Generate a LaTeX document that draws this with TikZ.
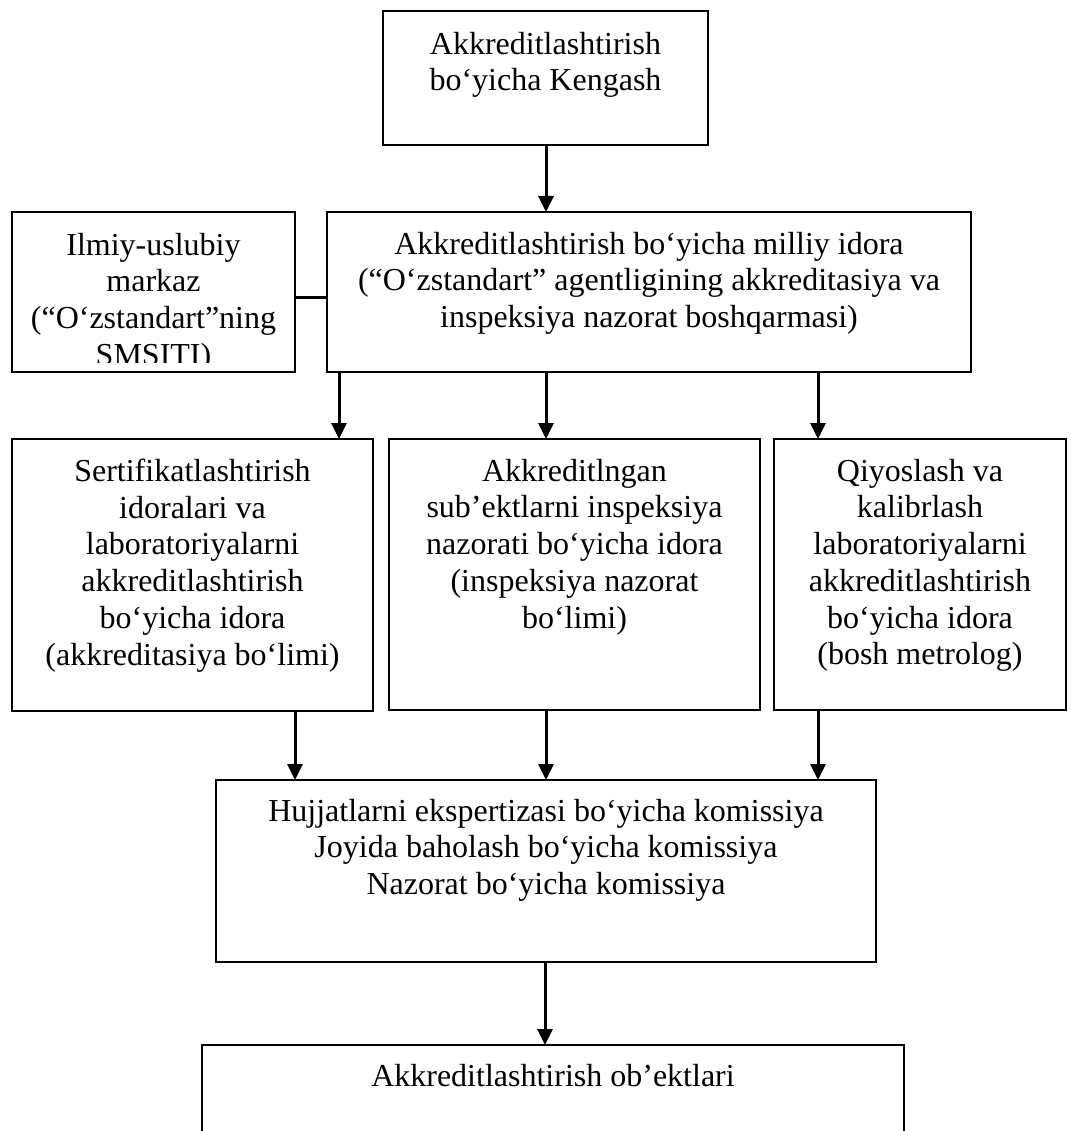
\documentclass[tikz,border=0pt]{standalone}
\usepackage{fontspec}
\setmainfont{Liberation Serif}
\usetikzlibrary{arrows.meta,calc}
\tikzset{
  box/.style={draw, line width=1.5pt, inner sep=0pt, outer sep=0pt, anchor=north west},
  openbox/.style={inner sep=0pt, outer sep=0pt, anchor=north west},
  txt/.style={inner sep=0pt, outer sep=0pt, anchor=north, align=center,
    font=\fontsize{32pt}{36.7pt}\selectfont},
  arr/.style={line width=3pt, -{Triangle[length=16pt,width=15pt]}},
  link/.style={line width=3pt}
}
\begin{document}
\begin{tikzpicture}[x=1pt,y=-1pt]
\fill[white] (0,0) rectangle (1070,1131);
\useasboundingbox (0,0) rectangle (1070,1131);

% boxes
\node[box, minimum width=325pt, minimum height=134pt] (kengash) at (383,11) {};
\node[box, minimum width=283pt, minimum height=160pt] (ilmiy) at (12,212) {};
\node[box, minimum width=644pt, minimum height=160pt] (milliy) at (327,212) {};
\node[box, minimum width=361pt, minimum height=272pt] (sert) at (12,439) {};
\node[box, minimum width=371pt, minimum height=271pt] (insp) at (389,439) {};
\node[box, minimum width=292pt, minimum height=271pt] (qiy) at (774,439) {};
\node[box, minimum width=660pt, minimum height=182pt] (kom) at (216,780) {};
\node[openbox, minimum width=702pt, minimum height=88pt] (obj) at (202,1045) {};
\draw[line width=1.5pt] (obj.south west) -- (obj.north west) -- (obj.north east) -- (obj.south east);

% texts
\node[txt] (kengashT) at (545.5,32) {Akkreditlashtirish\\bo‘yicha Kengash};
\begin{scope}
\clip (12,212) rectangle (295,362);
\node[txt] (ilmiyT) at (153.5,233) {Ilmiy-uslubiy\\markaz\\(“O‘zstandart”ning\\SMSITI)};
\end{scope}
\node[txt] (milliyT) at (649,232) {Akkreditlashtirish bo‘yicha milliy idora\\(“O‘zstandart” agentligining akkreditasiya va\\inspeksiya nazorat boshqarmasi)};
\node[txt] (sertT) at (192.5,459) {Sertifikatlashtirish\\idoralari va\\laboratoriyalarni\\akkreditlashtirish\\bo‘yicha idora\\(akkreditasiya bo‘limi)};
\node[txt] (inspT) at (574.5,459) {Akkreditlngan\\sub’ektlarni inspeksiya\\nazorati bo‘yicha idora\\(inspeksiya nazorat\\bo‘limi)};
\node[txt] (qiyT) at (920,459) {Qiyoslash va\\kalibrlash\\laboratoriyalarni\\akkreditlashtirish\\bo‘yicha idora\\(bosh metrolog)};
\node[txt] (komT) at (546,799) {Hujjatlarni ekspertizasi bo‘yicha komissiya\\Joyida baholash bo‘yicha komissiya\\Nazorat bo‘yicha komissiya};
\node[txt] (objT) at (553,1064) {Akkreditlashtirish ob’ektlari};

% connectors
\draw[arr] ([xshift=0.5pt]kengash.south) -- ([xshift=0.5pt]kengash.south |- milliy.north);
\draw[link] ([yshift=-85pt]ilmiy.north east) -- ([yshift=-85pt]milliy.north west);
\draw[arr] ([xshift=12pt]milliy.south west) -- ([xshift=12pt]milliy.south west |- sert.north);
\draw[arr] ([xshift=219pt]milliy.south west) -- ([xshift=219pt]milliy.south west |- insp.north);
\draw[arr] ([xshift=-153pt]milliy.south east) -- ([xshift=-153pt]milliy.south east |- qiy.north);
\draw[arr] ([xshift=102.5pt]sert.south) -- ([xshift=102.5pt]sert.south |- kom.north);
\draw[arr] ([xshift=-28.5pt]insp.south) -- ([xshift=-28.5pt]insp.south |- kom.north);
\draw[arr] ([xshift=-102pt]qiy.south) -- ([xshift=-102pt]qiy.south |- kom.north);
\draw[arr] ([xshift=-1pt]kom.south) -- ([xshift=-1pt]kom.south |- obj.north);
\end{tikzpicture}
\end{document}
